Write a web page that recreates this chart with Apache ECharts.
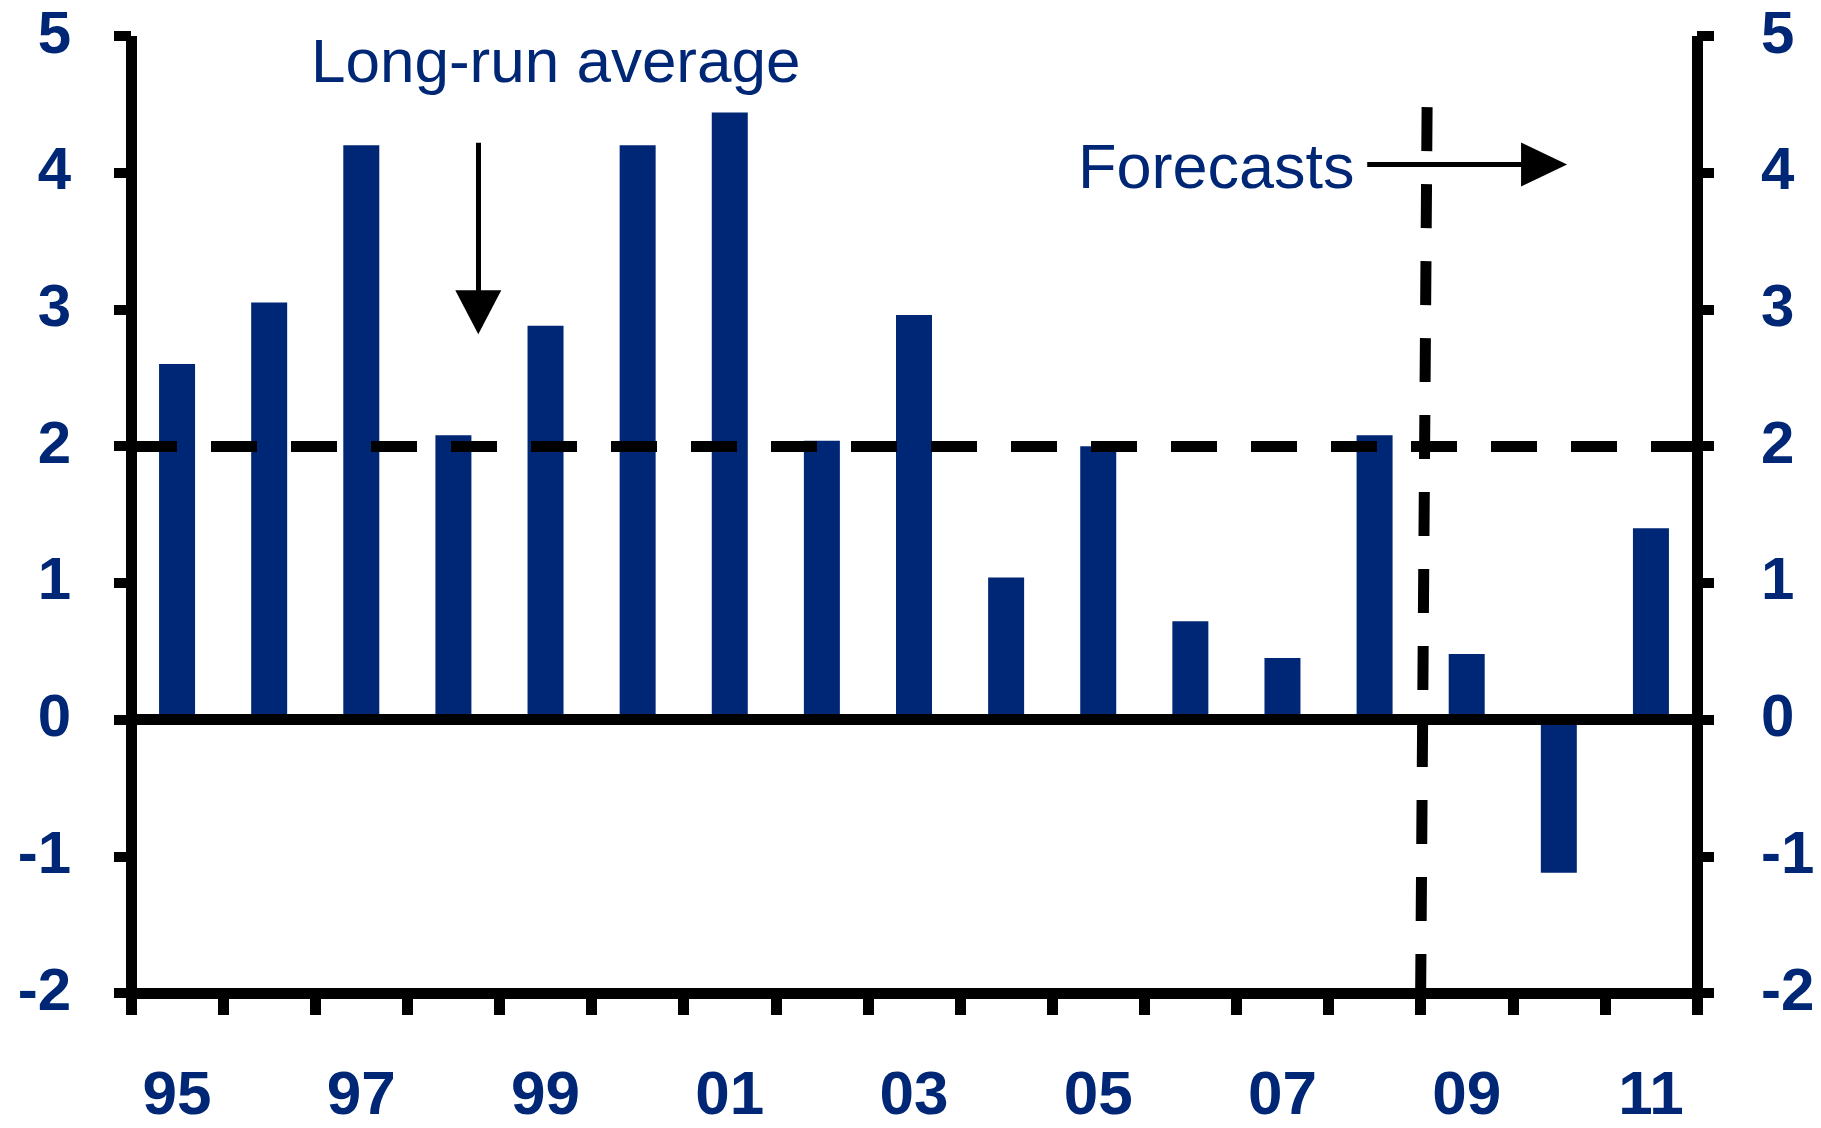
<!DOCTYPE html>
<html>
<head>
<meta charset="utf-8">
<title>Annual growth with forecasts</title>
<script src="https://cdn.jsdelivr.net/npm/echarts@6/dist/echarts.min.js"></script>
<style>
  html, body { margin: 0; padding: 0; background: #ffffff; }
  #chart { width: 1821px; height: 1128px; }
</style>
</head>
<body>
<div id="chart"></div>
<script>
// Years (two-digit) and annual values; 09-11 are forecasts
const years = ['95', '96', '97', '98', '99', '00', '01', '02', '03', '04', '05', '06', '07', '08', '09', '10', '11'];
const values = [2.60, 3.05, 4.20, 2.08, 2.88, 4.20, 4.44, 2.04, 2.96, 1.04, 2.00, 0.72, 0.45, 2.08, 0.48, -1.12, 1.40];
const longRunAverage = 2;

// Value-axis range and step
const yMin = -2, yMax = 5, yStep = 1;

// Annotation anchors in data units (x: category slots 0..17, y: value)
const forecastDivider = [[14.07, 4.48], [14.0, -2]];
const forecastArrow = [[13.42, 4.06], [15.34, 4.06]];
const averageArrow = [[3.77, 4.22], [3.77, 2.98]];

const NAVY = '#002776';
const FONT = '"Liberation Sans", Arial, sans-serif';

const chart = echarts.init(document.getElementById('chart'), null, { renderer: 'canvas' });

const yAxisCommon = {
  type: 'value',
  min: yMin,
  max: yMax,
  interval: yStep,
  splitLine: { show: false },
  axisLine: { show: true, onZero: false, lineStyle: { color: '#000', width: 11, cap: 'butt' } },
  axisTick: { show: true, inside: false, length: 17, lineStyle: { color: '#000', width: 10 } },
  axisLabel: { color: NAVY, fontSize: 60, fontWeight: 'bold', fontFamily: FONT }
};

chart.setOption({
  animation: false,
  backgroundColor: '#ffffff',
  grid: { left: 131, right: 124, top: 36, bottom: 126, containLabel: false },
  xAxis: [
    {
      type: 'category',
      data: years,
      position: 'bottom',
      boundaryGap: true,
      axisLine: { show: true, onZero: false, lineStyle: { color: '#000', width: 11 } },
      axisTick: { show: true, interval: 0, length: 22, lineStyle: { color: '#000', width: 11 } },
      axisLabel: { interval: 1, margin: 73, color: NAVY, fontSize: 62, fontWeight: 'bold', fontFamily: FONT },
      splitLine: { show: false }
    },
    {
      // slot-based helper axis for the annotations
      type: 'value',
      min: 0,
      max: years.length,
      show: false
    }
  ],
  yAxis: [
    Object.assign({}, yAxisCommon, { position: 'left', axisLabel: Object.assign({}, yAxisCommon.axisLabel, { margin: 60 }) }),
    Object.assign({}, yAxisCommon, { position: 'right', axisLabel: Object.assign({}, yAxisCommon.axisLabel, { margin: 64 }) })
  ],
  series: [
    {
      name: 'Growth',
      type: 'bar',
      xAxisIndex: 0,
      yAxisIndex: 0,
      data: values,
      barWidth: 36,
      itemStyle: { color: NAVY },
      markLine: {
        silent: true,
        symbol: 'none',
        label: { show: false },
        data: [
          { yAxis: 0, lineStyle: { color: '#000', width: 11, type: 'solid' } },
          { yAxis: longRunAverage, lineStyle: { color: '#000', width: 11, type: [46, 34] } }
        ]
      }
    },
    {
      name: 'Forecast divider',
      type: 'line',
      xAxisIndex: 1,
      yAxisIndex: 0,
      data: forecastDivider,
      symbol: 'none',
      silent: true,
      z: 6,
      lineStyle: { color: '#000', width: 11, type: [44, 33], cap: 'butt' },
      markLine: {
        silent: true,
        label: { show: false },
        lineStyle: { color: '#000', width: 5, type: 'solid' },
        data: [
          [
            { coord: forecastArrow[0], symbol: 'none' },
            { coord: forecastArrow[1], symbol: 'triangle', symbolSize: [44, 46] }
          ],
          [
            { coord: averageArrow[0], symbol: 'none' },
            { coord: averageArrow[1], symbol: 'triangle', symbolSize: [46, 44] }
          ]
        ]
      }
    }
  ],
  graphic: [
    {
      type: 'text',
      left: 311,
      top: 34,
      style: { text: 'Long-run average', fill: NAVY, font: '62px ' + FONT }
    },
    {
      type: 'text',
      left: 1078,
      top: 139,
      z: 10,
      style: { text: 'Forecasts', fill: NAVY, font: '63px ' + FONT }
    }
  ]
});
</script>
</body>
</html>
